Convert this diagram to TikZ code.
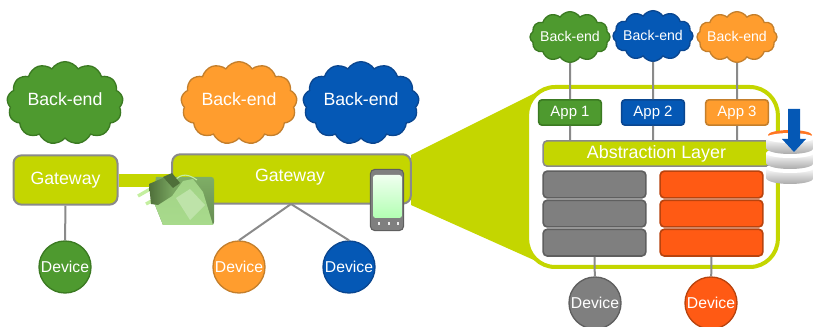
\documentclass[tikz,border=0pt]{standalone}
\usepackage{xcolor}
\usepackage{fontspec}
\setmainfont{Liberation Sans}
\usetikzlibrary{positioning, shapes.symbols}

\definecolor{limeband}{HTML}{C4D600}
\definecolor{edgegray}{HTML}{8A8A8A}
\definecolor{leaf}{HTML}{4E9A2F}
\definecolor{leafdark}{HTML}{3B7A22}
\definecolor{ocean}{HTML}{0558B5}
\definecolor{oceandark}{HTML}{0A4690}
\definecolor{amber}{HTML}{FF9D2E}
\definecolor{amberdark}{HTML}{C47F2C}
\definecolor{blaze}{HTML}{FF5A14}
\definecolor{blazedark}{HTML}{B8430E}
\definecolor{slab}{HTML}{7F7F7F}
\definecolor{slabdark}{HTML}{5F5F5F}
\definecolor{folderlight}{HTML}{A8DA8C}
\definecolor{folderdark}{HTML}{7FAE66}
\definecolor{plugdark}{HTML}{4F6F3A}
\definecolor{pronglight}{HTML}{C4EFA0}

\newcommand{\backend}{\makebox[0pt]{Back-end}}

\tikzset{
    cloudbig/.style={cloud, cloud puffs=13, cloud puff arc=115, aspect=1.35, draw, line width=1pt,
        minimum width=87pt, minimum height=62pt, inner sep=0pt, text=white, text depth=6pt,
        font=\fontsize{13.3}{15}\selectfont},
    cloudsmall/.style={cloudbig, cloud puffs=12, aspect=1.55, minimum width=60pt, minimum height=38pt,
        text depth=1pt, font=\fontsize{10.6}{12}\selectfont},
    gatewaybox/.style={draw=edgegray, fill=limeband, line width=1.5pt, rounded corners=6pt, text=white,
        font=\fontsize{13.3}{15}\selectfont},
    devicenode/.style={circle, draw, line width=1pt, minimum size=39pt, inner sep=0pt, text=white,
        font=\fontsize{11.8}{14}\selectfont},
    appbox/.style={draw, line width=1.2pt, rounded corners=2.5pt, minimum width=47pt, minimum height=19pt,
        inner sep=0pt, text=white, font=\fontsize{11.2}{13}\selectfont},
    slabbox/.style={fill=#1, rounded corners=3pt, line width=1.2pt, minimum width=77pt,
        minimum height=20pt, inner sep=0pt},
    link/.style={draw=edgegray, line width=1.5pt},
    disk/.style={top color=white, bottom color=gray!75}
}

\begin{document}
\begin{tikzpicture}[x=.75pt, y=-.75pt]
    \useasboundingbox (0,0) rectangle (813,327);

    % The zoom band behind the platform
    \fill[limeband] (411,155) -- (545,88) -- (545,265) -- (411,205) -- cycle;
    \node[draw=limeband, fill=white, line width=3pt, rounded corners=21pt, minimum width=188pt,
        minimum height=135pt, inner sep=0pt] (platform) at (652.5,177) {};

    % Left side
    \node[cloudbig, fill=leaf, draw=leafdark] (cloud1) at (65,103) {\backend};
    \node[gatewaybox, minimum width=78pt, minimum height=37pt] (gw1) at (65.5,180) {Gateway};
    \node[devicenode, fill=leaf, draw=leafdark] (dev1) at (65,267) {Device};

    % Middle
    \node[cloudbig, fill=amber, draw=amberdark] (cloud2) at (239,103) {\backend};
    \node[cloudbig, fill=ocean, draw=oceandark] (cloud3) at (361,103) {\backend};
    \node[gatewaybox, minimum width=179pt, minimum height=37pt] (gw2) at (291.5,179) {};
    \node[text=white, font=\fontsize{13.3}{15}\selectfont] (gw2text) at (290,177) {Gateway};
    \node[devicenode, fill=amber, draw=amberdark] (dev2) at (239,267) {Device};
    \node[devicenode, fill=ocean, draw=oceandark] (dev3) at (349,267) {Device};
    \coordinate (fork) at (291,204);

    % Connect the left side
    \fill[limeband] (gw1.east |- 0,174) rectangle (gw2.west |- 0,187);
    \draw[link] (gw1) -- (dev1);
    \draw[link] (fork) -- (dev2.north);
    \draw[link] (fork) -- (dev3.north);

    % Folder with plug
    \path[top color=folderdark, bottom color=folderdark!80!black]
        (156,177) -- (211,177) .. controls (213,177) and (214,178) .. (214,180) -- (214,222)
        .. controls (214,224) and (213,225) .. (212,225) -- (163,225) -- (153,200) -- cycle;
    \path[top color=folderlight!85!folderdark, bottom color=folderlight] (153,200) -- (172,196)
        -- (183,181) -- (193,179) -- (203,192) -- (213,225) -- (163,225) -- cycle;
    \fill[folderlight!75!white] (176,198) -- (190,189) -- (205,205) -- (190,220) -- cycle;
    \draw[pronglight, line width=.8pt] (172,185) .. controls (178,174) and (186,172) .. (197,180);
    \draw[pronglight, line width=2.5pt] (152,188) -- (138,196);
    \draw[pronglight, line width=2.5pt] (157,198) -- (146,204);
    \path[left color=plugdark, right color=folderdark]
        (149,184) -- (163,178) -- (176,186) -- (172,196) -- (158,205) -- (151,204) -- cycle;
    \fill[plugdark] (163,177) -- (172,173) -- (180,183) -- (173,188) -- cycle;

    % Phone
    \node[draw=slabdark, fill=slab, rounded corners=3.5pt, line width=.8pt, minimum width=25pt,
        minimum height=46pt, inner sep=0pt] (phone) at (387,200) {};
    \path[top color=green!6!white, bottom color=green!30!white, rounded corners=2pt]
        (373,175) rectangle (402,218);
    \foreach \x in {378,388,397}
        \fill[white!85!gray] (\x,222) rectangle +(2,3);

    % The platform stack
    \node[appbox, fill=leaf, draw=leafdark] (app1) at (570,112.5) {App 1};
    \node[appbox, fill=ocean, draw=oceandark] (app2) at (653,112.5) {App 2};
    \node[appbox, fill=amber, draw=amberdark] (app3) at (737,112.5) {App 3};
    \node[gatewaybox, line width=1.2pt, rounded corners=3pt, minimum width=170pt, minimum height=19pt,
        inner sep=0pt, font=\fontsize{13.4}{15}\selectfont] (layer) at (656.5,153.5) {Abstraction Layer};
    \node[slabbox=slab, draw=slabdark] (gray1) at (594.5,184.5) {};
    \node[slabbox=slab, draw=slabdark, below=.6pt of gray1] (gray2) {};
    \node[slabbox=slab, draw=slabdark, below=.6pt of gray2] (gray3) {};
    \node[slabbox=blaze, draw=blazedark] (red1) at (711.5,184.5) {};
    \node[slabbox=blaze, draw=blazedark, below=.6pt of red1] (red2) {};
    \node[slabbox=blaze, draw=blazedark, below=.6pt of red2] (red3) {};

    % Back-ends on top
    \node[cloudsmall, fill=leaf, draw=leafdark] (cloud4) at (570,37) {\backend};
    \node[cloudsmall, fill=ocean, draw=oceandark] (cloud5) at (653,36) {\backend};
    \node[cloudsmall, fill=amber, draw=amberdark] (cloud6) at (737,37) {\backend};
    \node[devicenode, fill=slab, draw=slabdark] (dev4) at (595,303) {Device};
    \node[devicenode, fill=blaze, draw=blazedark] (dev5) at (711,303) {Device};

    % Connect the platform
    \draw[link]
        (cloud4) -- (app1)
        (cloud5) -- (app2)
        (cloud6) -- (app3)
        (app1) -- (app1 |- layer.north)
        (app2) -- (app2 |- layer.north)
        (app3) -- (app3 |- layer.north)
        (gray3) -- (dev4)
        (red3) -- (dev5);

    % Database with arrow
    \fill[amber!75!red] (790,135) ellipse[x radius=22, y radius=5];
    \foreach \y in {168,153,138} {
        \path[disk] (766,\y) -- (766,\y+10) .. controls (768,\y+18) and (812,\y+18) .. (814,\y+10)
            -- (814,\y) -- cycle;
        \fill[white] (790,\y) ellipse[x radius=24, y radius=5];
    }
    \fill[ocean] (788,109) -- (800,109) -- (800,139) -- (806,139) -- (794,152) -- (782,139)
        -- (788,139) -- cycle;
\end{tikzpicture}
\end{document}
